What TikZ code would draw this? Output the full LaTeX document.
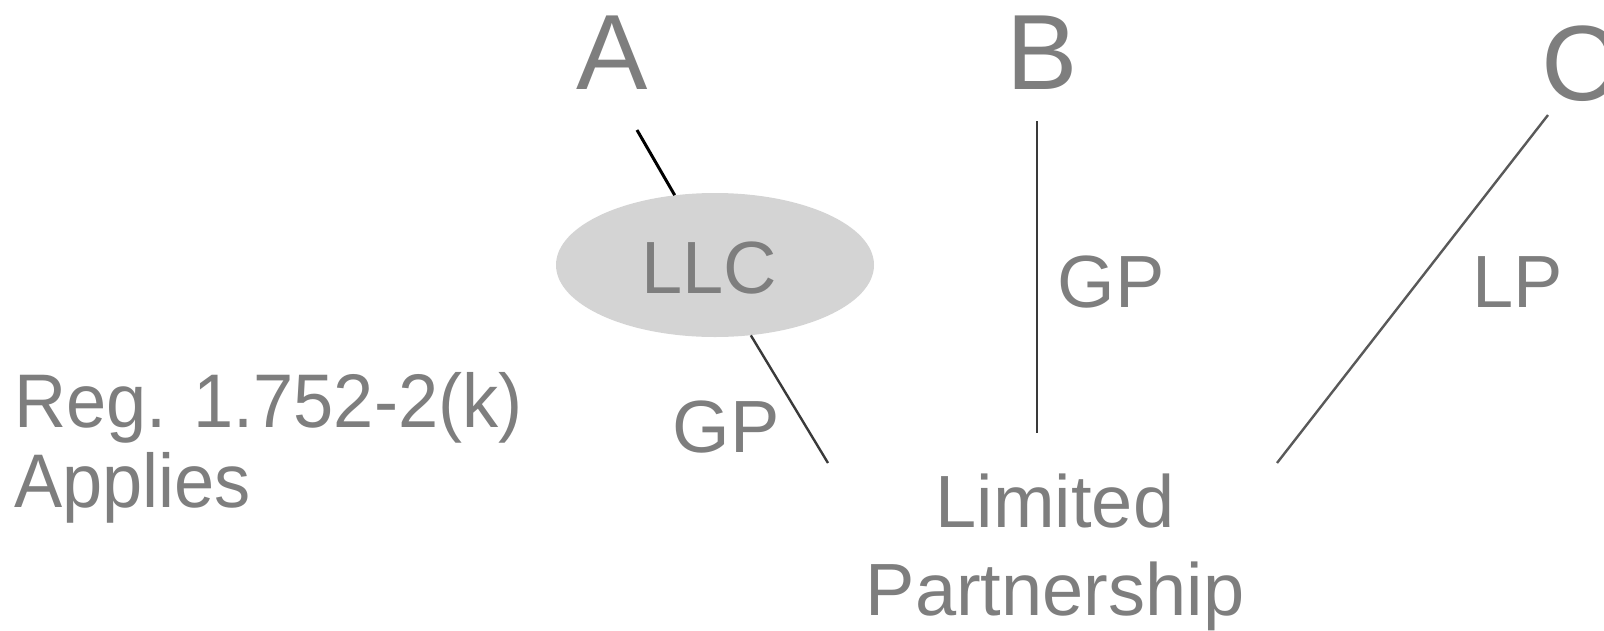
\documentclass[tikz,border=0pt]{standalone}
\usepackage{fontspec}
\setmainfont{Liberation Sans}
\newfontfamily\regfont[FakeStretch=0.95]{Liberation Sans}
\usetikzlibrary{shapes.geometric,calc}
\definecolor{txtgray}{HTML}{7E7E7E}
\definecolor{linegray}{HTML}{3A3A3A}
\definecolor{llcfill}{HTML}{D4D4D4}
\tikzset{
  txt/.style={inner sep=0pt, text=txtgray},
  big/.style={txt, font=\fontsize{107}{107}\selectfont},
  mid/.style={txt, font=\fontsize{74}{88}\selectfont},
  link/.style={line width=2.4pt, draw=linegray},
  blob/.style={ellipse, fill=llcfill, draw=none, minimum width=318pt, minimum height=144pt, inner sep=0pt}
}
\begin{document}
\begin{tikzpicture}[x=1pt,y=-1pt]
\useasboundingbox (0,0) rectangle (1604,630);
% letters
\node[big, anchor=base] (A) at (612,89) {A};
\node[big, anchor=base] (B) at (1042,89) {B};
\node[big, anchor=base] (C) at (1580,100) {C};
% LLC
\node[blob] (LLC) at (715,265) {};
\node[mid, anchor=base] (llctxt) at (709,293) {LLC};
% labels
\node[mid, anchor=base] (gp1) at (726,452) {GP};
\node[mid, anchor=base] (gp2) at (1111,307) {GP};
\node[mid, anchor=base] (lp) at (1518,307) {LP};
\node[txt, font=\regfont\fontsize{76}{80}\selectfont, anchor=base west, align=left] (reg) at (14,507) {Reg. 1.752-2(k)\\Applies};
\node[mid, anchor=base, align=center] (LPart) at (1055,615) {Limited\\Partnership};
% connector ends
\coordinate (a1) at (637,130);
\coordinate (g1) at (828,463);
\coordinate (b1) at (1037,121);
\coordinate (b2) at (1037,433);
\coordinate (c1) at (1548,115);
\coordinate (c2) at (1277,463);
\draw[link, draw=black, line width=3pt] (a1) -- (LLC.120);
\draw[link] (LLC.-63) -- (g1);
\draw[link, line width=2pt] (b1) -- (b2);
\draw[link, draw=black!65] (c1) -- (c2);
\end{tikzpicture}
\end{document}
